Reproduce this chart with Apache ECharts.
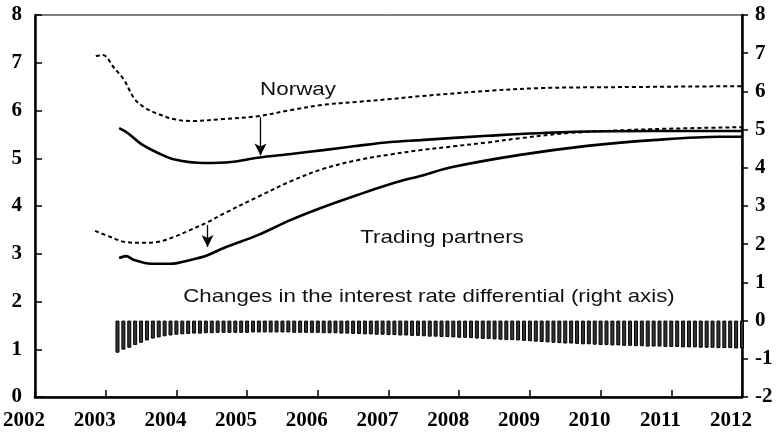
<!DOCTYPE html>
<html><head><meta charset="utf-8">
<script src="https://cdn.jsdelivr.net/npm/echarts@6/dist/echarts.min.js"></script>
<style>html,body{margin:0;padding:0;background:#fff}#c{width:777px;height:443px}</style>
</head><body><div id="c"></div><script>
// Tick labels
const xTickLabels = ['2002','2003','2004','2005','2006','2007','2008','2009','2010','2011','2012'];
const leftTickLabels = ['0','1','2','3','4','5','6','7','8'];
const rightTickLabels = ['-2','-1','0','1','2','3','4','5','6','7','8'];

// Lines: [decimal year, percent]
const norwayPrev = [[2002.86,7.14],[2002.96,7.16],[2003.12,6.89],[2003.26,6.64],[2003.40,6.26],[2003.54,6.07],[2003.74,5.93],[2003.96,5.82],[2004.20,5.78],[2004.67,5.82],[2005.15,5.88],[2005.62,6.01],[2006.08,6.12],[2006.56,6.18],[2007.03,6.24],[2007.45,6.30],[2008.40,6.41],[2009.15,6.47],[2010.28,6.49],[2012.0,6.51]];
const norwayNow = [[2003.19,5.63],[2003.31,5.53],[2003.50,5.30],[2003.74,5.11],[2003.96,4.98],[2004.39,4.90],[2004.77,4.92],[2005.15,5.01],[2005.62,5.09],[2006.08,5.17],[2006.56,5.26],[2007.03,5.34],[2007.45,5.38],[2008.40,5.47],[2009.53,5.55],[2010.74,5.57],[2012.0,5.57]];
const partnersPrev = [[2002.85,3.48],[2003.07,3.35],[2003.26,3.25],[2003.50,3.23],[2003.74,3.25],[2003.96,3.35],[2004.20,3.50],[2004.44,3.66],[2004.67,3.84],[2005.15,4.19],[2005.62,4.52],[2006.08,4.78],[2006.56,4.96],[2007.03,5.08],[2007.45,5.17],[2007.92,5.25],[2008.40,5.33],[2008.86,5.42],[2009.57,5.53],[2010.74,5.61],[2012.0,5.65]];
const partnersNow = [[2003.19,2.91],[2003.29,2.95],[2003.40,2.87],[2003.64,2.79],[2003.92,2.79],[2004.20,2.87],[2004.44,2.97],[2004.67,3.12],[2005.15,3.39],[2005.62,3.71],[2006.08,3.98],[2006.56,4.23],[2007.03,4.46],[2007.45,4.63],[2007.92,4.82],[2008.86,5.07],[2009.81,5.26],[2010.74,5.38],[2011.69,5.45],[2012.0,5.45]];

// Monthly bars, March 2003 to January 2012 (right axis)
const barStart = {year: 2003, month: 3};
const barValues = [
 -0.84,-0.76,-0.71,-0.64,-0.58,-0.52,-0.47,-0.44,-0.41,-0.39,
 -0.37,-0.36,-0.35,-0.34,-0.34,-0.33,-0.33,-0.32,-0.32,-0.32,-0.32,-0.32,
 -0.32,-0.31,-0.31,-0.31,-0.31,-0.31,-0.31,-0.31,-0.32,-0.32,-0.32,-0.32,
 -0.32,-0.33,-0.33,-0.33,-0.34,-0.34,-0.35,-0.35,-0.36,-0.36,-0.37,-0.37,
 -0.38,-0.38,-0.39,-0.39,-0.40,-0.40,-0.41,-0.42,-0.42,-0.43,-0.43,-0.44,
 -0.45,-0.45,-0.46,-0.47,-0.48,-0.48,-0.49,-0.50,-0.51,-0.51,-0.52,-0.53,
 -0.54,-0.55,-0.56,-0.57,-0.58,-0.59,-0.60,-0.60,-0.61,-0.62,-0.62,-0.63,
 -0.64,-0.64,-0.65,-0.65,-0.66,-0.66,-0.67,-0.67,-0.68,-0.68,-0.68,-0.69,
 -0.69,-0.69,-0.70,-0.70,-0.70,-0.71,-0.71,-0.71,-0.72,-0.72,-0.72,-0.73,
 -0.73
];

// Annotation arrows: [year, from, to]
const arrowNorway = [2005.19, 5.86, 5.06];
const arrowPartners = [2004.44, 3.60, 3.14];

const barData = barValues.map((v, i) => [barStart.year + (barStart.month - 1 + i) / 12, v]);

const serifLabel = {fontFamily: '"Liberation Serif","Times New Roman",serif', fontWeight: 'bold', fontSize: 21, color: '#000'};

const chart = echarts.init(document.getElementById('c'), null, {renderer: 'canvas'});
chart.setOption({
  animation: false,
  backgroundColor: '#fff',
  grid: {left: 34, right: 35, top: 15, bottom: 46, show: true, borderColor: '#000', borderWidth: 1, backgroundColor: 'transparent'},
  xAxis: {
    type: 'value', min: 2002, max: 2012, interval: 1,
    axisLine: {show: true, onZero: false, lineStyle: {color: '#000', width: 2.5}},
    axisTick: {show: true, inside: true, length: 7, lineStyle: {color: '#000', width: 1.5}},
    axisLabel: Object.assign({margin: 13, padding: [0, 22, 0, 0], showMinLabel: true, showMaxLabel: true,
      formatter: v => xTickLabels[Math.round(v - 2002)]}, serifLabel),
    splitLine: {show: false}
  },
  yAxis: [{
    type: 'value', min: 0, max: 8, interval: 1, position: 'left',
    axisLine: {show: true, onZero: false, lineStyle: {color: '#000', width: 2.5}},
    axisTick: {show: true, inside: true, length: 7, lineStyle: {color: '#000', width: 1.5}},
    axisLabel: Object.assign({margin: 13, formatter: v => leftTickLabels[Math.round(v)]}, serifLabel),
    splitLine: {show: false}
  }, {
    type: 'value', min: -2, max: 8, interval: 1, position: 'right',
    axisLine: {show: true, onZero: false, lineStyle: {color: '#000', width: 2.5}},
    axisTick: {show: true, inside: false, length: 6, lineStyle: {color: '#000', width: 1.5}},
    axisLabel: Object.assign({margin: 13, formatter: v => rightTickLabels[Math.round(v + 2)]}, serifLabel),
    splitLine: {show: false}
  }],
  series: [{
    type: 'bar', yAxisIndex: 1, data: barData, barWidth: 4,
    itemStyle: {color: '#333', borderColor: '#000', borderWidth: 1}
  }, {
    type: 'line', data: norwayPrev, showSymbol: false, smooth: 0.35,
    lineStyle: {color: '#000', width: 2, type: [4, 3]}
  }, {
    type: 'line', data: norwayNow, showSymbol: false, smooth: 0.35,
    lineStyle: {color: '#000', width: 2.6},
    markLine: {
      silent: true, symbol: ['none', 'arrow'], symbolSize: [9, 12],
      label: {show: false}, lineStyle: {color: '#000', width: 1.3, type: 'solid'},
      data: [
        [{coord: [arrowNorway[0], arrowNorway[1]]}, {coord: [arrowNorway[0], arrowNorway[2]]}],
        [{coord: [arrowPartners[0], arrowPartners[1]]}, {coord: [arrowPartners[0], arrowPartners[2]]}]
      ]
    }
  }, {
    type: 'line', data: partnersPrev, showSymbol: false, smooth: 0.35,
    lineStyle: {color: '#000', width: 2, type: [4, 3]}
  }, {
    type: 'line', data: partnersNow, showSymbol: false, smooth: 0.35,
    lineStyle: {color: '#000', width: 2.6}
  }],
  graphic: [
    {type: 'text', x: 298, y: 90, scaleX: 1.18, silent: true,
     style: {text: 'Norway', fontSize: 19, fontFamily: '"Liberation Sans",Arial,sans-serif', fill: '#111', align: 'center', verticalAlign: 'middle'}},
    {type: 'text', x: 442, y: 238, scaleX: 1.18, silent: true,
     style: {text: 'Trading partners', fontSize: 19, fontFamily: '"Liberation Sans",Arial,sans-serif', fill: '#111', align: 'center', verticalAlign: 'middle'}},
    {type: 'text', x: 429, y: 297, scaleX: 1.17, silent: true,
     style: {text: 'Changes in the interest rate differential (right axis)', fontSize: 19, fontFamily: '"Liberation Sans",Arial,sans-serif', fill: '#111', align: 'center', verticalAlign: 'middle'}}
  ]
});
</script></body></html>
